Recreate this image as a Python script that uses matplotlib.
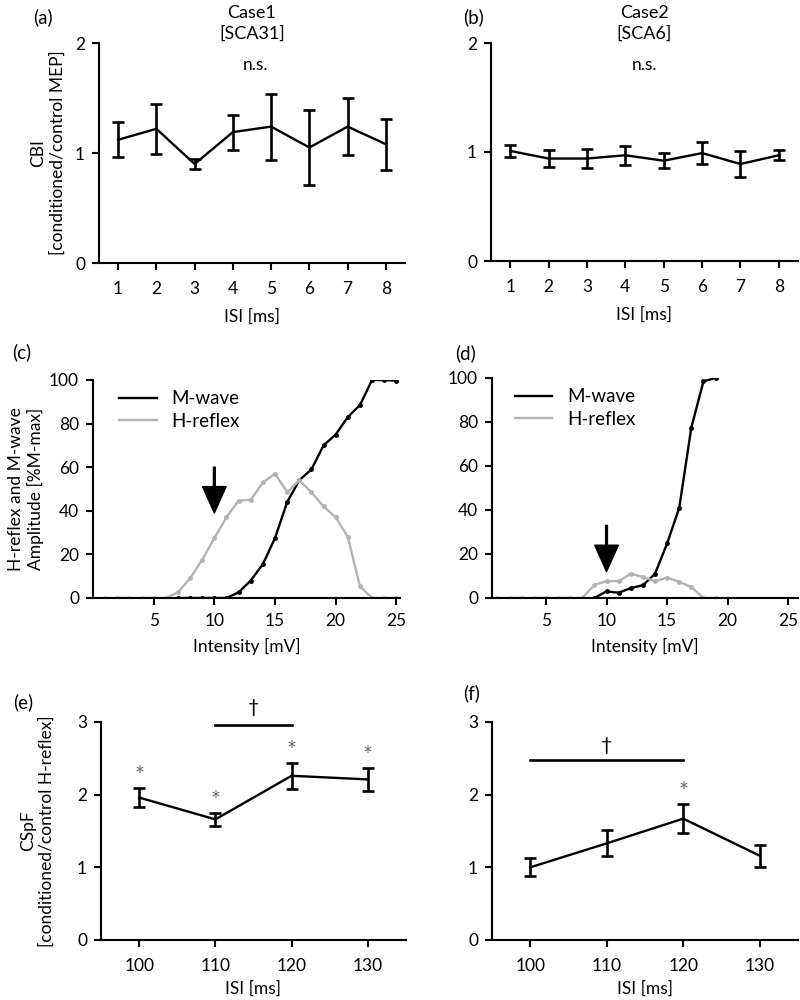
import matplotlib
matplotlib.use('Agg')
import matplotlib.pyplot as plt

plt.rcParams['font.family'] = ['Lato', 'DejaVu Sans']
plt.rcParams['font.size'] = 12.5

# --- Data ---
# (a) Case1 CBI
isi_cbi = [1, 2, 3, 4, 5, 6, 7, 8]
cbi_case1 = [1.12, 1.22, 0.90, 1.19, 1.24, 1.05, 1.24, 1.08]
cbi_case1_err = [0.16, 0.23, 0.045, 0.16, 0.30, 0.34, 0.26, 0.23]
# (b) Case2 CBI
cbi_case2 = [1.01, 0.94, 0.94, 0.97, 0.92, 0.99, 0.89, 0.97]
cbi_case2_err = [0.055, 0.075, 0.088, 0.087, 0.07, 0.098, 0.116, 0.046]

# (c) Case1 recruitment curves
int_c_h = list(range(1, 26))
hreflex_c = [0, 0, 0, 0, 0, 0, 2.6, 9, 17.5, 27.5, 37, 44.7, 45, 53, 57,
             48.5, 54, 48.5, 42, 37, 28, 5.3, 0, 0, 0]
int_c_m = list(range(7, 26))
mwave_c = [0, 0, 0, 0, 0, 2.6, 8, 15.5, 27.5, 44, 54, 59, 70, 75, 83,
           88.5, 100, 100, 99.7]

# (d) Case2 recruitment curves
int_d_h = list(range(1, 20))
hreflex_d = [0, 0, 0, 0, 0, 0, 0, 0, 6, 7.6, 7.7, 11, 9.6, 7.6, 9.3,
             7.3, 5, 0, 0]
int_d_m = list(range(9, 20))
mwave_d = [0, 3, 2.4, 4.5, 5.8, 11, 24.8, 41, 77.5, 98.5, 100]

# (e)/(f) CSpF
isi_cspf = [100, 110, 120, 130]
cspf_case1 = [1.96, 1.66, 2.26, 2.21]
cspf_case1_err = [0.125, 0.085, 0.18, 0.155]
cspf_case2 = [1.0, 1.33, 1.67, 1.16]
cspf_case2_err = [0.125, 0.18, 0.195, 0.15]

GRAY = '#b3b3b3'
STAR = '#6e6e6e'
W, H = 800, 1000


def make_ax(fig, left, right, top, bottom):
    ax = fig.add_axes([left / W, 1 - bottom / H, (right - left) / W, (bottom - top) / H])
    for s in ('top', 'right'):
        ax.spines[s].set_visible(False)
    for s in ('left', 'bottom'):
        ax.spines[s].set_linewidth(1.5)
    ax.tick_params(direction='out', length=5, width=1.5, labelsize=12.5)
    ax.tick_params(axis='x', pad=8)
    ax.tick_params(axis='y', pad=5)
    return ax


def err_plot(ax, x, y, e):
    ax.errorbar(x, y, yerr=e, color='black', lw=1.7, elinewidth=1.9,
                capsize=4.5, capthick=1.9)


def arrow(ax, x, y_tip, y_tail):
    ax.annotate('', xy=(x, y_tip), xytext=(x, y_tail),
                arrowprops=dict(width=1.3, headwidth=17, headlength=19,
                                facecolor='black', edgecolor='black', shrink=0))


fig = plt.figure(figsize=(8, 10), dpi=100)

# (a)
ax_a = make_ax(fig, 99, 405, 43, 263)
err_plot(ax_a, isi_cbi, cbi_case1, cbi_case1_err)
ax_a.set_xlim(0.5, 8.5)
ax_a.set_ylim(0, 2)
ax_a.set_xticks(isi_cbi)
ax_a.set_yticks([0, 1, 2])
ax_a.set_xlabel('ISI [ms]', labelpad=8)
ax_a.set_ylabel('CBI\n[conditioned/control MEP]', labelpad=7)
ax_a.set_title('Case1\n[SCA31]', fontsize=13, pad=3, linespacing=1.35)
ax_a.text(4.6, 1.8, 'n.s.', ha='center', va='center')

# (b)
ax_b = make_ax(fig, 491, 798, 43, 261)
err_plot(ax_b, isi_cbi, cbi_case2, cbi_case2_err)
ax_b.set_xlim(0.5, 8.5)
ax_b.set_ylim(0, 2)
ax_b.set_xticks(isi_cbi)
ax_b.set_yticks([0, 1, 2])
ax_b.set_xlabel('ISI [ms]', labelpad=8)
ax_b.set_title('Case2\n[SCA6]', fontsize=13, pad=3, linespacing=1.35)
ax_b.text(4.5, 1.8, 'n.s.', ha='center', va='center')

# (c)
ax_c = make_ax(fig, 93, 400, 380, 598)
ax_c.plot(int_c_m, mwave_c, color='black', lw=1.7, marker='o', ms=2.5, label='M-wave')
ax_c.plot(int_c_h, hreflex_c, color=GRAY, lw=1.7, marker='o', ms=2.5, label='H-reflex')
arrow(ax_c, 10, 39, 60)
ax_c.set_xlim(0, 25.3)
ax_c.set_ylim(0, 100)
ax_c.set_xticks([5, 10, 15, 20, 25])
ax_c.set_yticks([0, 20, 40, 60, 80, 100])
ax_c.tick_params(axis='x', pad=6)
ax_c.set_xlabel('Intensity [mV]', labelpad=6)
ax_c.set_ylabel('H-reflex and M-wave\nAmplitude [%M-max]', labelpad=4)
leg = ax_c.legend(loc='upper left', bbox_to_anchor=(0.03, 1.03), frameon=False,
                  fontsize=13.5, handlelength=2.0, handletextpad=0.8, labelspacing=0.3)
for h in leg.legend_handles:
    h.set_marker('')

# (d)
ax_d = make_ax(fig, 492, 798, 378, 598)
ax_d.plot(int_d_m, mwave_d, color='black', lw=1.7, marker='o', ms=2.5, label='M-wave')
ax_d.plot(int_d_h, hreflex_d, color=GRAY, lw=1.7, marker='o', ms=2.5, label='H-reflex')
arrow(ax_d, 10, 12, 33)
ax_d.set_xlim(0.55, 25.8)
ax_d.set_ylim(0, 100)
ax_d.set_xticks([5, 10, 15, 20, 25])
ax_d.set_yticks([0, 20, 40, 60, 80, 100])
ax_d.tick_params(axis='x', pad=6)
ax_d.set_xlabel('Intensity [mV]', labelpad=6)
leg = ax_d.legend(loc='upper left', bbox_to_anchor=(0.02, 1.03), frameon=False,
                  fontsize=13.5, handlelength=2.0, handletextpad=0.8, labelspacing=0.3)
for h in leg.legend_handles:
    h.set_marker('')

# (e)
ax_e = make_ax(fig, 101, 406, 722, 940)
err_plot(ax_e, isi_cspf, cspf_case1, cspf_case1_err)
ax_e.set_xlim(95, 135)
ax_e.set_ylim(0, 3)
ax_e.set_xticks(isi_cspf)
ax_e.set_yticks([0, 1, 2, 3])
ax_e.set_xlabel('ISI [ms]', labelpad=5)
ax_e.set_ylabel('CSpF\n[conditioned/control H-reflex]', labelpad=16)
for x, y, e in zip(isi_cspf, cspf_case1, cspf_case1_err):
    ax_e.text(x, y + e + 0.03, '*', color=STAR, ha='center', va='bottom', fontsize=17)
ax_e.plot([110, 120], [2.96, 2.96], color='black', lw=1.9, clip_on=False)
ax_e.text(115, 3.08, '\u2020', ha='center', va='bottom', fontsize=14, clip_on=False)

# (f)
ax_f = make_ax(fig, 492, 798, 722, 940)
err_plot(ax_f, isi_cspf, cspf_case2, cspf_case2_err)
ax_f.set_xlim(95, 135)
ax_f.set_ylim(0, 3)
ax_f.set_xticks(isi_cspf)
ax_f.set_yticks([0, 1, 2, 3])
ax_f.set_xlabel('ISI [ms]', labelpad=5)
ax_f.text(120, cspf_case2[2] + cspf_case2_err[2] + 0.03, '*', color=STAR,
          ha='center', va='bottom', fontsize=17)
ax_f.plot([100, 120], [2.48, 2.48], color='black', lw=1.9)
ax_f.text(110, 2.56, '\u2020', ha='center', va='bottom', fontsize=14)

# panel letters
for lbl, x, y in [('(a)', 43, 17), ('(b)', 473, 17), ('(c)', 22, 352),
                  ('(d)', 465, 353), ('(e)', 23, 702), ('(f)', 472, 693)]:
    fig.text(x / W, 1 - y / H, lbl, ha='center', va='center', fontsize=13.5)

fig.savefig('out.png', dpi=100)
